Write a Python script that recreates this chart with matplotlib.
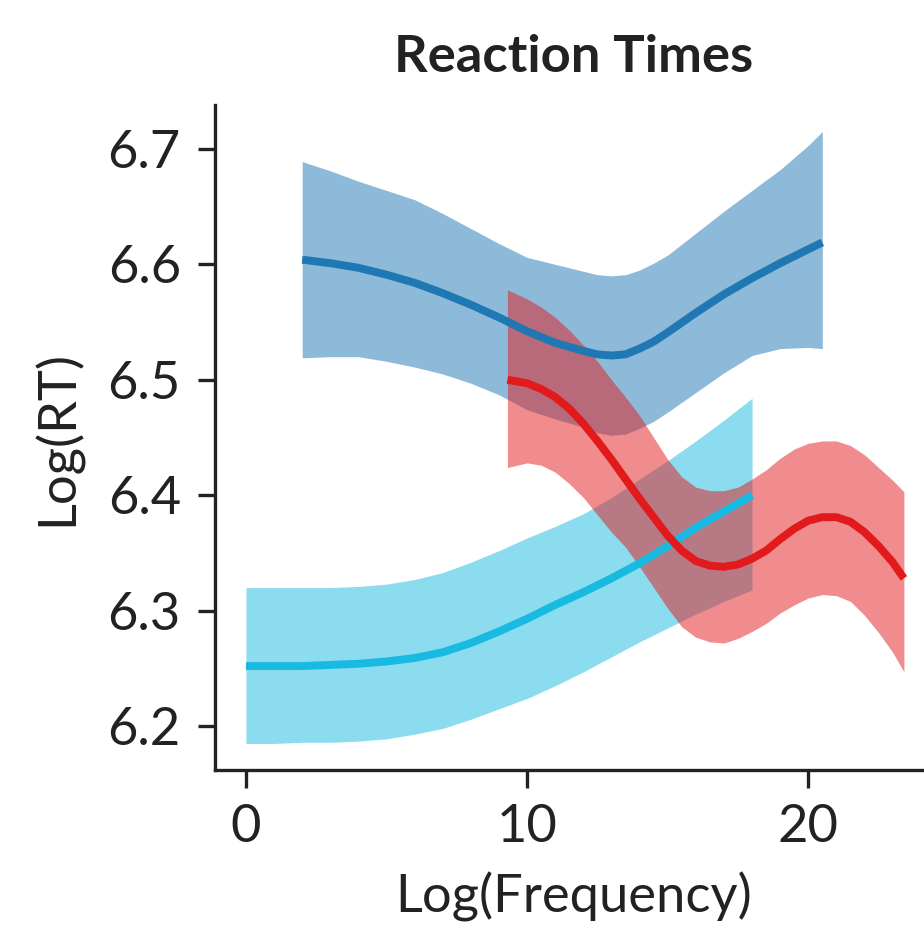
import matplotlib
matplotlib.use("Agg")
import matplotlib.pyplot as plt

plt.rcParams['font.family'] = ['Lato', 'DejaVu Sans']

# Dark blue series
blue_x = [2, 3, 4, 5, 6, 7, 8, 9, 10, 11, 12, 12.5, 13, 13.5, 14, 14.5, 15, 16, 17, 18, 19, 20, 20.5]
blue_y = [6.604, 6.601, 6.597, 6.591, 6.584, 6.575, 6.565, 6.554, 6.542, 6.532, 6.525, 6.522,
          6.521, 6.522, 6.527, 6.533, 6.541, 6.558, 6.574, 6.588, 6.601, 6.613, 6.619]
blue_hi = [6.689, 6.681, 6.672, 6.664, 6.656, 6.644, 6.631, 6.618, 6.606, 6.600, 6.594, 6.591,
           6.590, 6.591, 6.595, 6.601, 6.608, 6.627, 6.646, 6.664, 6.682, 6.703, 6.715]
blue_lo = [6.519, 6.520, 6.520, 6.516, 6.511, 6.505, 6.497, 6.487, 6.474, 6.466, 6.459, 6.454,
           6.452, 6.453, 6.458, 6.464, 6.472, 6.489, 6.506, 6.521, 6.527, 6.528, 6.527]

# Red series
red_x = [9.3, 10, 10.5, 11, 11.5, 12, 12.5, 13, 13.5, 14, 14.5, 15, 15.5, 16, 16.5, 17, 17.5,
         18, 18.5, 19, 19.5, 20, 20.5, 21, 21.5, 22, 22.5, 23, 23.4]
red_y = [6.500, 6.497, 6.492, 6.485, 6.475, 6.462, 6.447, 6.431, 6.414, 6.397, 6.381, 6.365,
         6.352, 6.343, 6.339, 6.338, 6.340, 6.345, 6.352, 6.362, 6.371, 6.378, 6.381, 6.381,
         6.377, 6.368, 6.356, 6.342, 6.328]
red_hi = [6.578, 6.570, 6.563, 6.554, 6.543, 6.530, 6.516, 6.500, 6.485, 6.469, 6.450, 6.431,
          6.416, 6.407, 6.404, 6.404, 6.407, 6.414, 6.422, 6.432, 6.440, 6.445, 6.447, 6.447,
          6.443, 6.435, 6.424, 6.413, 6.403]
red_lo = [6.424, 6.428, 6.426, 6.420, 6.410, 6.398, 6.383, 6.368, 6.355, 6.338, 6.320, 6.302,
          6.286, 6.277, 6.273, 6.272, 6.276, 6.282, 6.289, 6.298, 6.305, 6.311, 6.314, 6.313,
          6.308, 6.296, 6.281, 6.264, 6.247]

# Light blue series
cyan_x = [0, 1, 2, 3, 4, 5, 6, 7, 8, 9, 10, 11, 12, 13, 14, 15, 16, 17, 18]
cyan_y = [6.252, 6.252, 6.252, 6.253, 6.254, 6.256, 6.259, 6.264, 6.272, 6.282, 6.293, 6.305,
          6.316, 6.328, 6.341, 6.356, 6.372, 6.386, 6.400]
cyan_hi = [6.320, 6.320, 6.320, 6.320, 6.321, 6.323, 6.327, 6.333, 6.342, 6.352, 6.363, 6.373,
           6.384, 6.398, 6.414, 6.430, 6.447, 6.465, 6.484]
cyan_lo = [6.185, 6.185, 6.186, 6.186, 6.187, 6.189, 6.193, 6.198, 6.206, 6.215, 6.224, 6.235,
           6.247, 6.260, 6.273, 6.285, 6.297, 6.308, 6.318]

x_ticks = [0, 10, 20]
y_ticks = [6.2, 6.3, 6.4, 6.5, 6.6, 6.7]

fig = plt.figure(figsize=(924 / 300, 934 / 300), dpi=300)
ax = fig.add_axes([215 / 924, 164 / 934, 717 / 924, 665 / 934])

series = [
    (blue_x, blue_y, blue_lo, blue_hi, '#1f77b4'),
    (cyan_x, cyan_y, cyan_lo, cyan_hi, '#18bae1'),
    (red_x, red_y, red_lo, red_hi, '#e31a1c'),
]
for xs, ys, lo, hi, c in series:
    ax.fill_between(xs, lo, hi, color=c, alpha=0.5, linewidth=0)
for xs, ys, lo, hi, c in series:
    ax.plot(xs, ys, color=c, linewidth=1.9, solid_capstyle='butt', solid_joinstyle='round')

ax.set_xlim(-1.1, 24.4)
ax.set_ylim(6.162, 6.738)
ax.set_xticks(x_ticks)
ax.set_yticks(y_ticks)
ax.set_yticklabels([f"{v:.1f}" for v in y_ticks])

for s in ['top', 'right']:
    ax.spines[s].set_visible(False)
for s in ['left', 'bottom']:
    ax.spines[s].set_linewidth(0.8)
    ax.spines[s].set_color('#222222')
ax.tick_params(axis='both', labelsize=12.6, width=0.8, length=4.2, colors='#222222', pad=4)
ax.set_xlabel('Log(Frequency)', fontsize=12.6, color='#222222', labelpad=5)
ax.set_ylabel('Log(RT)', fontsize=12.6, color='#222222', labelpad=6)
ax.set_title('Reaction Times', fontsize=12.6, fontweight='bold', color='#222222', pad=8)

fig.savefig('out.png', dpi=300)
